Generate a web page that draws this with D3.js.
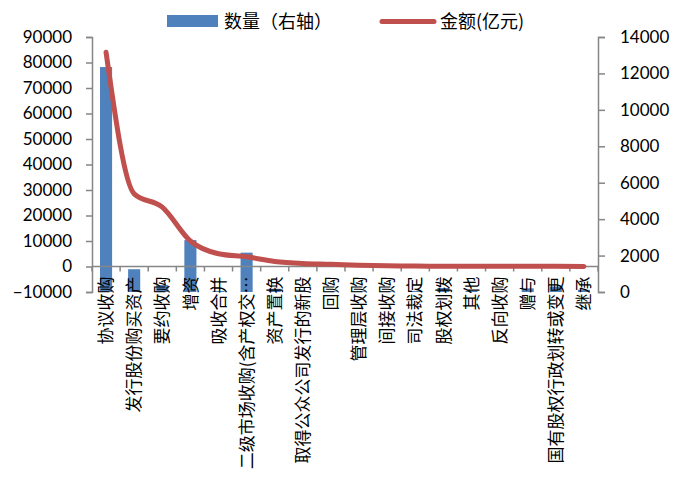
<!DOCTYPE html>
<html>
<head>
<meta charset="utf-8">
<script src="https://d3js.org/d3.v7.min.js"></script>
<style>
  body { margin: 0; background: #fff; }
</style>
</head>
<body>
<div id="chart"></div>
<script>

// categories and series
var categories = ["协议收购", "发行股份购买资产", "要约收购", "增资", "吸收合并",
  "二级市场收购(含产权交…", "资产置换", "取得公众公司发行的新股", "回购", "管理层收购",
  "间接收购", "司法裁定", "股权划拨", "其他", "反向收购", "赠与",
  "国有股权行政划转或变更", "继承"];
var counts = [12350, 1250, 380, 2850, 60, 2160, 180, 40, 30, 40, 40, 60, 220, 60, 30, 200, 300, 120];   // 数量（右轴）
var amounts = [84000, 28500, 23300, 10000, 5000, 3800, 2000, 1200, 900, 500, 250, 150, 120, 100, 80, 60, 50, 40]; // 金额(亿元)
var leftTicks = [-10000, 0, 10000, 20000, 30000, 40000, 50000, 60000, 70000, 80000, 90000];
var rightTicks = [0, 2000, 4000, 6000, 8000, 10000, 12000, 14000];

var W = 693, H = 483;
var margin = {top: 37, right: 95, bottom: 191, left: 92};
var width = W - margin.left - margin.right,
    height = H - margin.top - margin.bottom;

var svg = d3.select("#chart")
  .append("svg")
    .attr("width", W)
    .attr("height", H)
    .style("font-family", "Lato, 'Open Sans', sans-serif");

var g = svg.append("g")
    .attr("transform", "translate(" + margin.left + "," + margin.top + ")");

var x = d3.scaleBand()
  .domain(categories)
  .range([0, width])
  .paddingInner(0.57)
  .paddingOuter(0.285);

var yL = d3.scaleLinear().domain([-10000, 90000]).range([height, 0]);
var yR = d3.scaleLinear().domain([0, 14000]).range([height, 0]);

var axisColor = "#868686";

// bars (right axis)
g.selectAll(".bar").data(categories)
  .enter().append("rect")
    .attr("class", "bar")
    .attr("x", function(d) { return x(d); })
    .attr("width", x.bandwidth())
    .attr("y", function(d, i) { return yR(counts[i]); })
    .attr("height", function(d, i) { return yR(0) - yR(counts[i]); })
    .attr("fill", "#4F81BD");

// left axis
var gl = g.append("g")
  .call(d3.axisLeft(yL).tickValues(leftTicks).tickSize(6).tickPadding(14).tickFormat(d3.format("d")));
gl.select(".domain").attr("stroke", axisColor).attr("stroke-width", 1.5);
gl.selectAll(".tick line").attr("stroke", axisColor).attr("stroke-width", 1.5);
gl.selectAll("text").attr("font-size", "17px").attr("fill", "#000").attr("font-family", "Lato, sans-serif");

// right axis
var gr = g.append("g")
  .attr("transform", "translate(" + width + ",0)")
  .call(d3.axisRight(yR).tickValues(rightTicks).tickSize(7).tickPadding(15).tickFormat(d3.format("d")));
gr.select(".domain").attr("stroke", axisColor).attr("stroke-width", 1.5);
gr.selectAll(".tick line").attr("stroke", axisColor).attr("stroke-width", 1.5);
gr.selectAll("text").attr("font-size", "17px").attr("fill", "#000").attr("font-family", "Lato, sans-serif");

// category axis at left-axis zero, ticks between categories
var y0 = yL(0);
g.append("line")
  .attr("x1", 0).attr("x2", width)
  .attr("y1", y0).attr("y2", y0)
  .attr("stroke", axisColor).attr("stroke-width", 1.5);
var step = x.step();
g.selectAll(".xtick").data(d3.range(categories.length + 1))
  .enter().append("line")
    .attr("x1", function(i) { return i * step; })
    .attr("x2", function(i) { return i * step; })
    .attr("y1", y0).attr("y2", y0 + 5)
    .attr("stroke", axisColor).attr("stroke-width", 1.5);

// category labels
g.selectAll(".xlab").data(categories)
  .enter().append("text")
    .attr("class", "xlab")
    .attr("transform", function(d) {
      return "translate(" + (x(d) + x.bandwidth() / 2) + "," + (y0 + 10) + ") rotate(-90)";
    })
    .attr("dy", "0.36em")
    .attr("text-anchor", "end")
    .attr("font-size", "17px")
    .attr("font-family", "'Noto Sans CJK SC', sans-serif")
    .attr("fill", "#000")
    .text(function(d) { return d; });

// amount line (left axis)
var line = d3.line()
  .x(function(d, i) { return x(categories[i]) + x.bandwidth() / 2; })
  .y(function(d) { return yL(d); })
  .curve(d3.curveMonotoneX);

g.append("path")
  .datum(amounts)
  .attr("fill", "none")
  .attr("stroke", "#C0504D")
  .attr("stroke-width", 5)
  .attr("stroke-linecap", "round")
  .attr("stroke-linejoin", "round")
  .attr("d", line);

// legend
var leg = svg.append("g");
leg.append("rect")
  .attr("x", 167).attr("y", 15)
  .attr("width", 51).attr("height", 12)
  .attr("fill", "#4F81BD");
leg.append("text")
  .attr("x", 224).attr("y", 28)
  .attr("font-size", "18px")
  .attr("font-family", "'Noto Sans CJK SC', sans-serif")
  .text("数量（右轴）");
leg.append("line")
  .attr("x1", 382).attr("x2", 434)
  .attr("y1", 21.5).attr("y2", 21.5)
  .attr("stroke", "#C0504D")
  .attr("stroke-width", 5)
  .attr("stroke-linecap", "round");
leg.append("text")
  .attr("x", 440).attr("y", 28)
  .attr("font-size", "18px")
  .attr("font-family", "'Noto Sans CJK SC', sans-serif")
  .text("金额(亿元)");

</script>
</body>
</html>
